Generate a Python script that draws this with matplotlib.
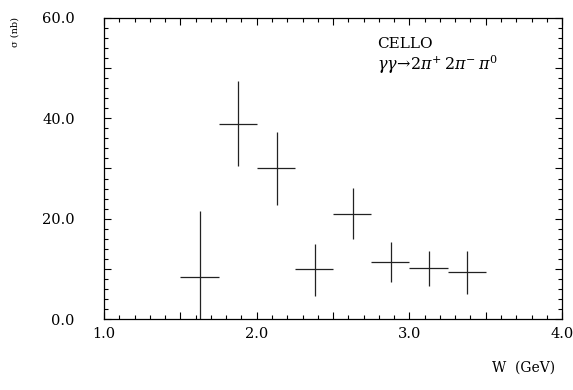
import matplotlib
matplotlib.use("Agg")
import matplotlib.pyplot as plt
from matplotlib.ticker import MultipleLocator

# CELLO gamma gamma -> 2pi+ 2pi- pi0 cross section
w_low = [1.50, 1.75, 2.00, 2.25, 2.50, 2.75, 3.00, 3.25]
w_high = [1.75, 2.00, 2.25, 2.50, 2.75, 3.00, 3.25, 3.50]
w_center = [1.63, 1.88, 2.13, 2.38, 2.63, 2.88, 3.13, 3.38]
sigma = [8.3, 38.8, 30.0, 10.0, 20.9, 11.4, 10.2, 9.3]
err_up = [13.2, 8.6, 7.3, 4.9, 5.3, 3.9, 3.3, 4.3]
err_down = [8.3, 8.3, 7.2, 5.4, 5.0, 4.0, 3.6, 4.4]

plt.rcParams['font.family'] = ['DejaVu Serif']
plt.rcParams['mathtext.fontset'] = 'dejavuserif'

fig = plt.figure(figsize=(5.73, 3.9), dpi=100)
ax = fig.add_axes([0.1815, 0.182, 0.7995, 0.772])

xerr = [[c - lo for c, lo in zip(w_center, w_low)],
        [hi - c for c, hi in zip(w_center, w_high)]]
ax.errorbar(w_center, sigma, xerr=xerr, yerr=[err_down, err_up],
            fmt='none', ecolor='#222222', elinewidth=0.9, capsize=0)

ax.set_xlim(1.0, 4.0)
ax.set_ylim(0, 60)

ax.xaxis.set_major_locator(MultipleLocator(0.5))
ax.xaxis.set_minor_locator(MultipleLocator(0.1))
ax.yaxis.set_major_locator(MultipleLocator(10))
ax.yaxis.set_minor_locator(MultipleLocator(2))

# labels only on whole GeV / every 20 nb
ax.xaxis.set_major_formatter(plt.FuncFormatter(
    lambda v, p: "%.1f" % v if abs(v - round(v)) < 1e-6 else ""))
ax.yaxis.set_major_formatter(plt.FuncFormatter(
    lambda v, p: "%.1f" % v if int(round(v)) % 20 == 0 else ""))

ax.tick_params(which='both', direction='in', top=True, right=True,
               width=0.8, labelsize=10.5)
ax.tick_params(which='major', length=5)
ax.tick_params(which='minor', length=3)
ax.tick_params(axis='y', pad=21)
ax.tick_params(axis='x', pad=6)

for s in ax.spines.values():
    s.set_linewidth(0.9)

ax.text(0.596, 0.912, "CELLO", transform=ax.transAxes, fontsize=11,
        va='center', ha='left')
ax.text(0.596, 0.845,
        r"$\gamma\gamma\!\rightarrow\! 2\pi^{+}\,2\pi^{-}\,\pi^{0}$",
        transform=ax.transAxes, fontsize=11.5, va='center', ha='left')

fig.text(15 / 573, 1 - 32 / 390, "σ (nb)", rotation=90, fontsize=7,
         ha='center', va='center')
fig.text(524 / 573, 1 - 368 / 390, "W  (GeV)", fontsize=10,
         ha='center', va='center')

fig.savefig("out.png", dpi=100, facecolor='white')
